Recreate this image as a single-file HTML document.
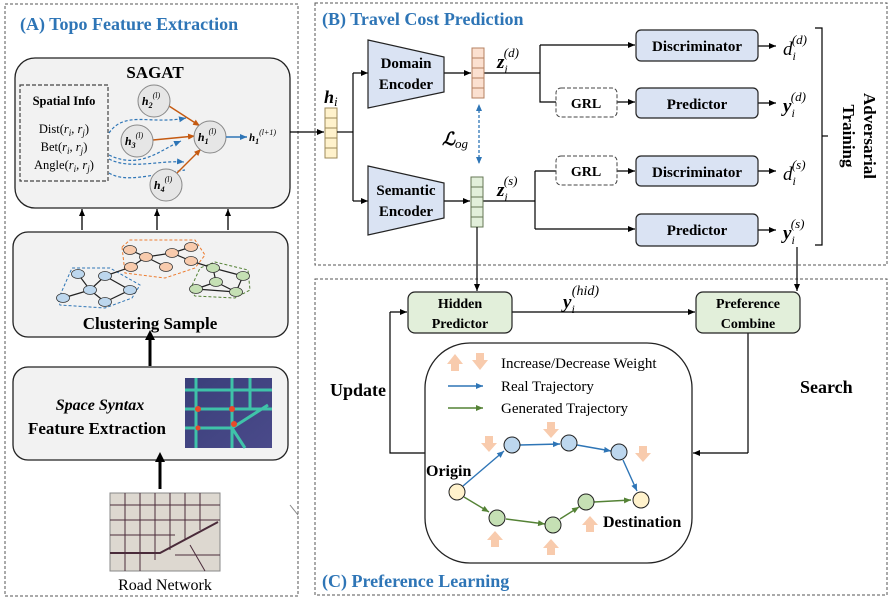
<!DOCTYPE html>
<html><head><meta charset="utf-8"><style>
html,body{margin:0;padding:0;background:#fff}
svg{display:block;font-family:"Liberation Serif",serif}
.b{font-weight:bold}
</style></head><body>
<svg width="892" height="599" viewBox="0 0 892 599" xmlns="http://www.w3.org/2000/svg">
<defs>
<marker id="a" markerWidth="8" markerHeight="8" refX="7" refY="4" orient="auto" markerUnits="userSpaceOnUse"><path d="M0,1 L7,4 L0,7 z" fill="#000"/></marker>
<marker id="ab" markerWidth="8" markerHeight="8" refX="7" refY="4" orient="auto" markerUnits="userSpaceOnUse"><path d="M0,1 L7,4 L0,7 z" fill="#2e75b6"/></marker>
<marker id="abs" markerWidth="8" markerHeight="8" refX="1" refY="4" orient="auto-start-reverse" markerUnits="userSpaceOnUse"><path d="M0,1 L7,4 L0,7 z" fill="#2e75b6"/></marker>
<marker id="ao" markerWidth="8" markerHeight="8" refX="7" refY="4" orient="auto" markerUnits="userSpaceOnUse"><path d="M0,1 L7,4 L0,7 z" fill="#c55a11"/></marker>
<marker id="ag" markerWidth="8" markerHeight="8" refX="7" refY="4" orient="auto" markerUnits="userSpaceOnUse"><path d="M0,1 L7,4 L0,7 z" fill="#548235"/></marker>
<marker id="at" markerWidth="10" markerHeight="10" refX="5" refY="9" orient="0" markerUnits="userSpaceOnUse"><path d="M0,10 L5,0 L10,10 z" fill="#000"/></marker>
<linearGradient id="hm" x1="0" y1="0" x2="1" y2="1"><stop offset="0" stop-color="#3a3f7a"/><stop offset="1" stop-color="#4a4a8a"/></linearGradient>
</defs>

<!-- Panel A -->
<rect x="5" y="4" width="293" height="592" fill="none" stroke="#555" stroke-dasharray="3,2"/>
<text x="20" y="30" font-size="18" fill="#2e75b6" class="b">(A)  Topo Feature Extraction</text>
<rect x="15" y="58" width="275" height="150" rx="20" fill="#f2f2f2" stroke="#222" stroke-width="1.3"/>
<text x="155" y="78" font-size="17" class="b" text-anchor="middle">SAGAT</text>
<rect x="20" y="85" width="88" height="96" fill="none" stroke="#444" stroke-dasharray="4,2" stroke-width="1.2"/>
<text x="64" y="105" font-size="12.5" class="b" text-anchor="middle">Spatial Info</text>
<text x="64" y="133" font-size="12.5" text-anchor="middle">Dist(<tspan font-style="italic">r<tspan font-size="9" dy="3">i</tspan><tspan dy="-3">, r</tspan><tspan font-size="9" dy="3">j</tspan></tspan><tspan dy="-3">)</tspan></text>
<text x="64" y="151" font-size="12.5" text-anchor="middle">Bet(<tspan font-style="italic">r<tspan font-size="9" dy="3">i</tspan><tspan dy="-3">, r</tspan><tspan font-size="9" dy="3">j</tspan></tspan><tspan dy="-3">)</tspan></text>
<text x="64" y="169" font-size="12.5" text-anchor="middle">Angle(<tspan font-style="italic">r<tspan font-size="9" dy="3">i</tspan><tspan dy="-3">, r</tspan><tspan font-size="9" dy="3">j</tspan></tspan><tspan dy="-3">)</tspan></text>
<g fill="none" stroke="#2e75b6" stroke-dasharray="3,2" stroke-width="1.2">
<path d="M109,133 C125,110 150,125 186,118" marker-end="url(#ab)"/>
<path d="M109,155 C140,170 160,150 181,141" marker-end="url(#ab)"/>
<path d="M109,159 C130,170 160,160 184,162" marker-end="url(#ab)"/>
<path d="M109,173 C125,183 150,175 185,170"/>
</g>
<g stroke="#c55a11" stroke-width="1.4" fill="none">
<line x1="169" y1="106" x2="200" y2="126" marker-end="url(#ao)"/>
<line x1="153" y1="140" x2="195" y2="136" marker-end="url(#ao)"/>
<line x1="176" y1="174" x2="201" y2="149" marker-end="url(#ao)"/>
</g>
<g fill="#e6e6e6" stroke="#888">
<circle cx="154" cy="101" r="16"/><circle cx="137" cy="141" r="16"/><circle cx="210" cy="137" r="16"/><circle cx="166" cy="185" r="16"/>
</g>
<g font-size="12" font-style="italic" class="b" text-anchor="middle">
<text x="151" y="105">h<tspan font-size="8" dy="3">2</tspan><tspan font-size="8" dy="-10" font-weight="normal">(l)</tspan></text>
<text x="134" y="145">h<tspan font-size="8" dy="3">3</tspan><tspan font-size="8" dy="-10" font-weight="normal">(l)</tspan></text>
<text x="207" y="141">h<tspan font-size="8" dy="3">1</tspan><tspan font-size="8" dy="-10" font-weight="normal">(l)</tspan></text>
<text x="163" y="189">h<tspan font-size="8" dy="3">4</tspan><tspan font-size="8" dy="-10" font-weight="normal">(l)</tspan></text>
</g>
<line x1="226" y1="137" x2="247" y2="137" stroke="#2e75b6" stroke-width="1.4" marker-end="url(#ab)"/>
<text x="249" y="141" font-size="11" font-style="italic" class="b">h<tspan font-size="8" dy="3">1</tspan><tspan font-size="8" dy="-9" font-weight="normal">(l+1)</tspan></text>
<g stroke="#000" stroke-width="1.3">
<line x1="82" y1="230" x2="82" y2="209" marker-end="url(#a)"/>
<line x1="157" y1="230" x2="157" y2="209" marker-end="url(#a)"/>
<line x1="228" y1="230" x2="228" y2="209" marker-end="url(#a)"/>
</g>
<rect x="13" y="232" width="275" height="105" rx="15" fill="#f2f2f2" stroke="#222" stroke-width="1.3"/>
<g fill="none" stroke-dasharray="3,2" stroke-width="1">
<path d="M58,300 L72,268 L110,268 L140,285 L132,298 L105,308 L60,305 z" stroke="#2e75b6"/>
<path d="M122,247 L130,240 L195,240 L205,255 L195,268 L165,278 L125,273 z" stroke="#ed7d31"/>
<path d="M190,290 L200,268 L215,262 L248,270 L250,290 L235,298 L195,296 z" stroke="#548235"/>
</g>
<g stroke="#222" stroke-width="1.2">
<line x1="78" y1="274" x2="90" y2="290"/><line x1="105" y1="276" x2="90" y2="290"/><line x1="63" y1="298" x2="90" y2="290"/><line x1="90" y1="290" x2="105" y2="302"/><line x1="105" y1="302" x2="130" y2="290"/><line x1="105" y1="276" x2="130" y2="290"/><line x1="105" y1="276" x2="131" y2="267"/>
<line x1="130" y1="250" x2="146" y2="257"/><line x1="146" y1="257" x2="172" y2="253"/><line x1="172" y1="253" x2="191" y2="247"/><line x1="172" y1="253" x2="191" y2="261"/><line x1="146" y1="257" x2="166" y2="267"/><line x1="146" y1="257" x2="131" y2="267"/><line x1="191" y1="261" x2="213" y2="268"/>
<line x1="213" y1="268" x2="243" y2="276"/><line x1="213" y1="268" x2="216" y2="282"/><line x1="216" y1="282" x2="236" y2="292"/><line x1="243" y1="276" x2="236" y2="292"/><line x1="196" y1="289" x2="236" y2="292"/><line x1="196" y1="289" x2="216" y2="282"/>
</g>
<g stroke="#333" stroke-width="0.8">
<g fill="#bdd7ee"><ellipse cx="78" cy="274" rx="6.5" ry="4.5"/><ellipse cx="105" cy="276" rx="6.5" ry="4.5"/><ellipse cx="90" cy="290" rx="6.5" ry="4.5"/><ellipse cx="63" cy="298" rx="6.5" ry="4.5"/><ellipse cx="105" cy="302" rx="6.5" ry="4.5"/><ellipse cx="130" cy="290" rx="6.5" ry="4.5"/></g>
<g fill="#f8cbad"><ellipse cx="130" cy="250" rx="6.5" ry="4.5"/><ellipse cx="146" cy="257" rx="6.5" ry="4.5"/><ellipse cx="172" cy="253" rx="6.5" ry="4.5"/><ellipse cx="191" cy="247" rx="6.5" ry="4.5"/><ellipse cx="191" cy="261" rx="6.5" ry="4.5"/><ellipse cx="166" cy="267" rx="6.5" ry="4.5"/><ellipse cx="131" cy="267" rx="6.5" ry="4.5"/></g>
<g fill="#c5e0b4"><ellipse cx="213" cy="268" rx="6.5" ry="4.5"/><ellipse cx="243" cy="276" rx="6.5" ry="4.5"/><ellipse cx="216" cy="282" rx="6.5" ry="4.5"/><ellipse cx="236" cy="292" rx="6.5" ry="4.5"/><ellipse cx="196" cy="289" rx="6.5" ry="4.5"/></g>
</g>
<text x="150" y="329" font-size="17" class="b" text-anchor="middle">Clustering Sample</text>
<line x1="150" y1="366" x2="150" y2="339" stroke="#000" stroke-width="3" marker-end="url(#at)"/>
<rect x="13" y="367" width="275" height="93" rx="15" fill="#f2f2f2" stroke="#222" stroke-width="1.3"/>
<text x="100" y="410" font-size="16" font-style="italic" class="b" text-anchor="middle">Space Syntax</text>
<text x="97" y="434" font-size="17" class="b" text-anchor="middle">Feature Extraction</text>
<rect x="185" y="378" width="87" height="70" fill="url(#hm)"/>
<g stroke="#3fd9b0" stroke-width="3" opacity="0.85" fill="none">
<line x1="185" y1="390" x2="272" y2="390"/><line x1="185" y1="409" x2="272" y2="409"/><line x1="196" y1="378" x2="196" y2="448"/><line x1="232" y1="378" x2="232" y2="448"/><line x1="250" y1="378" x2="250" y2="410"/><path d="M185,428 L232,428 L268,405"/><path d="M232,428 L245,448"/>
</g>
<g fill="#e84a2a"><circle cx="198" cy="409" r="3"/><circle cx="232" cy="409" r="3"/><circle cx="234" cy="424" r="3"/><circle cx="198" cy="428" r="2.5"/></g>
<line x1="160" y1="489" x2="160" y2="461" stroke="#000" stroke-width="3" marker-end="url(#at)"/>
<rect x="110" y="493" width="110" height="78" fill="#ddd8d0" stroke="#888"/>
<g stroke="#4a2b3a" stroke-width="1" fill="none">
<line x1="110" y1="505" x2="220" y2="505"/><line x1="110" y1="520" x2="220" y2="520"/><line x1="110" y1="535" x2="175" y2="535"/><line x1="125" y1="493" x2="125" y2="571"/><line x1="140" y1="493" x2="140" y2="571"/><line x1="155" y1="493" x2="155" y2="560"/><line x1="170" y1="493" x2="170" y2="550"/><line x1="185" y1="493" x2="185" y2="540"/><line x1="200" y1="493" x2="200" y2="530"/>
<path d="M110,553 L160,553 L218,522" stroke-width="2"/><line x1="190" y1="545" x2="205" y2="571"/><line x1="175" y1="555" x2="220" y2="555"/>
</g>
<text x="165" y="590" font-size="16" text-anchor="middle">Road Network</text>
<line x1="290" y1="505" x2="298" y2="515" stroke="#888" stroke-width="1"/>

<!-- Panel B -->
<rect x="315" y="3" width="572" height="262" fill="none" stroke="#555" stroke-dasharray="3,2"/>
<text x="322" y="25" font-size="18" fill="#2e75b6" class="b">(B) Travel Cost Prediction</text>
<line x1="290" y1="132" x2="324" y2="132" stroke="#000" stroke-width="1.2" marker-end="url(#a)"/>
<text x="324" y="103" font-size="18" font-style="italic" class="b">h<tspan font-size="13" font-weight="normal" dy="3">i</tspan></text>
<g fill="#fff2cc" stroke="#9c8a5a"><rect x="325" y="108" width="12" height="10"/><rect x="325" y="118" width="12" height="10"/><rect x="325" y="128" width="12" height="10"/><rect x="325" y="138" width="12" height="10"/><rect x="325" y="148" width="12" height="10"/></g>
<g stroke="#000" stroke-width="1.2" fill="none">
<path d="M337,132 L353,132"/><path d="M353,73 L353,201"/>
<line x1="353" y1="73" x2="368" y2="73" marker-end="url(#a)"/>
<line x1="353" y1="201" x2="368" y2="201" marker-end="url(#a)"/>
<line x1="444" y1="73" x2="471" y2="73" marker-end="url(#a)"/>
<line x1="444" y1="201" x2="470" y2="201" marker-end="url(#a)"/>
<path d="M484,73 L540,73"/><path d="M540,45 L540,102 L556,102"/>
<line x1="540" y1="45" x2="635" y2="45" marker-end="url(#a)"/>
<line x1="617" y1="102" x2="635" y2="102" marker-end="url(#a)"/>
<path d="M483,201 L535,201"/><path d="M535,171 L535,229"/><path d="M535,171 L556,171"/>
<line x1="617" y1="171" x2="635" y2="171" marker-end="url(#a)"/>
<line x1="535" y1="229" x2="635" y2="229" marker-end="url(#a)"/>
<line x1="758" y1="46" x2="776" y2="46" marker-end="url(#a)"/>
<line x1="758" y1="103" x2="776" y2="103" marker-end="url(#a)"/>
<line x1="758" y1="171" x2="776" y2="171" marker-end="url(#a)"/>
<line x1="758" y1="230" x2="776" y2="230" marker-end="url(#a)"/>
<path d="M815,28 L822,28 L822,245 L815,245"/><path d="M822,136 L828,136"/>
</g>
<polygon points="368,40 444,57 444,92 368,108" fill="#dae3f3" stroke="#222" stroke-width="1.2"/>
<polygon points="368,166 444,183 444,218 368,235" fill="#dae3f3" stroke="#222" stroke-width="1.2"/>
<text x="406" y="68" font-size="15" class="b" text-anchor="middle">Domain</text>
<text x="406" y="89" font-size="15" class="b" text-anchor="middle">Encoder</text>
<text x="406" y="195" font-size="15" class="b" text-anchor="middle">Semantic</text>
<text x="406" y="216" font-size="15" class="b" text-anchor="middle">Encoder</text>
<g fill="#fbe0d0" stroke="#b48060"><rect x="472" y="48" width="12" height="10"/><rect x="472" y="58" width="12" height="10"/><rect x="472" y="68" width="12" height="10"/><rect x="472" y="78" width="12" height="10"/><rect x="472" y="88" width="12" height="10"/></g>
<g fill="#e2efda" stroke="#667755"><rect x="471" y="177" width="12" height="10"/><rect x="471" y="187" width="12" height="10"/><rect x="471" y="197" width="12" height="10"/><rect x="471" y="207" width="12" height="10"/><rect x="471" y="217" width="12" height="10"/></g>
<line x1="479" y1="110" x2="479" y2="164" stroke="#2e75b6" stroke-width="1.3" stroke-dasharray="3,2" marker-start="url(#abs)" marker-end="url(#ab)"/>
<text x="442" y="145" font-size="18" font-style="italic" class="b">ℒ<tspan font-size="13" font-weight="normal" dy="3">og</tspan></text>
<text x="497" y="68" font-size="19" font-style="italic" class="b">z<tspan font-size="12" font-weight="normal" dy="5">i</tspan><tspan font-size="13" font-weight="normal" dx="-4" dy="-16">(d)</tspan></text>
<text x="497" y="196" font-size="19" font-style="italic" class="b">z<tspan font-size="12" font-weight="normal" dy="5">i</tspan><tspan font-size="13" font-weight="normal" dx="-4" dy="-16">(s)</tspan></text>
<g fill="#fff" stroke="#444" stroke-dasharray="4,2"><rect x="556" y="88" width="61" height="29" rx="5"/><rect x="556" y="156" width="61" height="29" rx="5"/></g>
<text x="586" y="108" font-size="14" class="b" text-anchor="middle">GRL</text>
<text x="586" y="176" font-size="14" class="b" text-anchor="middle">GRL</text>
<g fill="#dae3f3" stroke="#222" stroke-width="1.2"><rect x="636" y="30" width="122" height="31" rx="5"/><rect x="636" y="88" width="122" height="30" rx="5"/><rect x="636" y="156" width="122" height="30" rx="5"/><rect x="636" y="214" width="122" height="32" rx="5"/></g>
<g font-size="15" class="b" text-anchor="middle"><text x="697" y="51">Discriminator</text><text x="697" y="109">Predictor</text><text x="697" y="177">Discriminator</text><text x="697" y="235">Predictor</text></g>
<g font-size="19" font-style="italic">
<text x="783" y="55">d<tspan font-size="12" dy="5">i</tspan><tspan font-size="13" dx="-4" dy="-16">(d)</tspan></text>
<text x="783" y="112" class="b">y<tspan font-size="12" font-weight="normal" dy="5">i</tspan><tspan font-size="13" font-weight="normal" dx="-4" dy="-16">(d)</tspan></text>
<text x="783" y="180">d<tspan font-size="12" dy="5">i</tspan><tspan font-size="13" dx="-4" dy="-16">(s)</tspan></text>
<text x="783" y="239" class="b">y<tspan font-size="12" font-weight="normal" dy="5">i</tspan><tspan font-size="13" font-weight="normal" dx="-4" dy="-16">(s)</tspan></text>
</g>
<text transform="translate(864,136) rotate(90)" font-size="17" class="b" text-anchor="middle">Adversarial</text>
<text transform="translate(843,136) rotate(90)" font-size="17" class="b" text-anchor="middle">Training</text>

<!-- Panel C -->
<rect x="315" y="279" width="572" height="316" fill="none" stroke="#555" stroke-dasharray="3,2"/>
<text x="322" y="587" font-size="18" fill="#2e75b6" class="b">(C) Preference Learning</text>
<g stroke="#000" stroke-width="1.2" fill="none">
<line x1="477" y1="227" x2="477" y2="291" marker-end="url(#a)"/>
<line x1="797" y1="247" x2="797" y2="291" marker-end="url(#a)"/>
<line x1="512" y1="312" x2="695" y2="312" marker-end="url(#a)"/>
<path d="M425,453 L390,453 L390,312"/><line x1="390" y1="312" x2="407" y2="312" marker-end="url(#a)"/>
<path d="M748,333 L748,453"/><line x1="748" y1="453" x2="693" y2="453" marker-end="url(#a)"/>
</g>
<g fill="#e2efda" stroke="#222" stroke-width="1.2"><rect x="408" y="292" width="104" height="41" rx="7"/><rect x="696" y="292" width="104" height="41" rx="7"/></g>
<g font-size="14" class="b" text-anchor="middle"><text x="460" y="308">Hidden</text><text x="460" y="328">Predictor</text><text x="748" y="308">Preference</text><text x="748" y="328">Combine</text></g>
<text x="563" y="308" font-size="19" font-style="italic" class="b">y<tspan font-size="12" font-weight="normal" dy="5">i</tspan><tspan font-size="14" font-weight="normal" dx="-3" dy="-18">(hid)</tspan></text>
<text x="330" y="396" font-size="18" class="b">Update</text>
<text x="800" y="393" font-size="18" class="b">Search</text>
<rect x="425" y="343" width="267" height="220" rx="45" fill="#fff" stroke="#222" stroke-width="1.3"/>
<g fill="#f8cbad">
<path d="M447,364 L455,354 L463,364 L459,364 L459,371 L451,371 L451,364 z"/>
<path d="M476,353 L484,353 L484,360 L488,360 L480,370 L472,360 L476,360 z"/>
<path d="M485,436 L493,436 L493,443 L497,443 L489,452 L481,443 L485,443 z"/>
<path d="M547,422 L555,422 L555,429 L559,429 L551,438 L543,429 L547,429 z"/>
<path d="M639,446 L647,446 L647,453 L651,453 L643,462 L635,453 L639,453 z"/>
<path d="M487,540 L495,531 L503,540 L499,540 L499,547 L491,547 L491,540 z"/>
<path d="M543,548 L551,539 L559,548 L555,548 L555,555 L547,555 L547,548 z"/>
<path d="M582,525 L590,516 L598,525 L594,525 L594,532 L586,532 L586,525 z"/>
</g>
<text x="501" y="368" font-size="15">Increase/Decrease Weight</text>
<line x1="448" y1="386" x2="483" y2="386" stroke="#2e75b6" stroke-width="1.4" marker-end="url(#ab)"/>
<text x="501" y="391" font-size="15">Real Trajectory</text>
<line x1="448" y1="408" x2="483" y2="408" stroke="#548235" stroke-width="1.4" marker-end="url(#ag)"/>
<text x="501" y="413" font-size="15">Generated Trajectory</text>
<g stroke="#2e75b6" stroke-width="1.4">
<line x1="463" y1="486" x2="504" y2="451" marker-end="url(#ab)"/>
<line x1="520" y1="445" x2="560" y2="444" marker-end="url(#ab)"/>
<line x1="577" y1="445" x2="611" y2="451" marker-end="url(#ab)"/>
<line x1="623" y1="460" x2="637" y2="491" marker-end="url(#ab)"/>
</g>
<g stroke="#548235" stroke-width="1.4">
<line x1="464" y1="497" x2="489" y2="512" marker-end="url(#ag)"/>
<line x1="506" y1="519" x2="545" y2="524" marker-end="url(#ag)"/>
<line x1="560" y1="519" x2="579" y2="507" marker-end="url(#ag)"/>
<line x1="594" y1="502" x2="631" y2="500" marker-end="url(#ag)"/>
</g>
<g stroke="#222" stroke-width="1">
<circle cx="457" cy="492" r="8" fill="#fff2cc"/><circle cx="641" cy="500" r="8" fill="#fff2cc"/>
<circle cx="512" cy="445" r="8" fill="#bdd7ee"/><circle cx="569" cy="443" r="8" fill="#bdd7ee"/><circle cx="619" cy="452" r="8" fill="#bdd7ee"/>
<circle cx="497" cy="518" r="8" fill="#c5e0b4"/><circle cx="553" cy="525" r="8" fill="#c5e0b4"/><circle cx="586" cy="502" r="8" fill="#c5e0b4"/>
</g>
<text x="426" y="476" font-size="16" class="b">Origin</text>
<text x="603" y="527" font-size="16" class="b">Destination</text>
</svg>
</body></html>
